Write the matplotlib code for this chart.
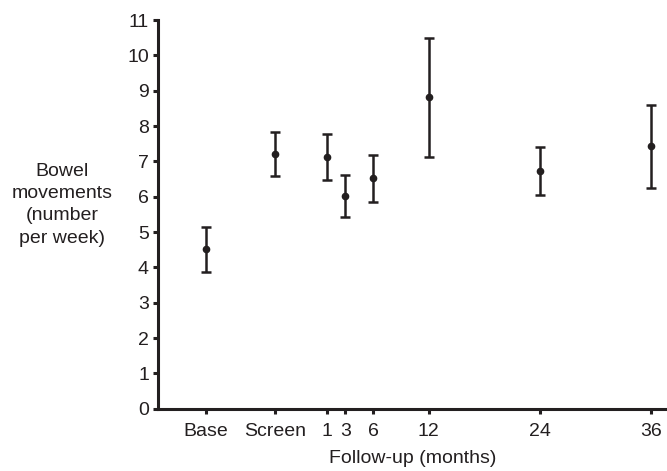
import matplotlib
matplotlib.use("Agg")
import matplotlib.pyplot as plt

# data
labels = ["Base", "Screen", "1", "3", "6", "12", "24", "36"]
months = [-12, -4.6, 1, 3, 6, 12, 24, 36]
means = [4.52, 7.22, 7.12, 6.03, 6.54, 8.82, 6.72, 7.43]
upper = [5.14, 7.83, 7.76, 6.61, 7.18, 10.50, 7.41, 8.59]
lower = [3.86, 6.59, 6.46, 5.43, 5.86, 7.13, 6.04, 6.25]

ink = "#231f20"
plt.rcParams["font.family"] = ["Liberation Sans", "DejaVu Sans"]

fig = plt.figure(figsize=(6.67, 4.71), dpi=100)
ax = fig.add_axes([0.2369, 0.1323, 0.7631, 0.8252])

err_lo = [m - l for m, l in zip(means, lower)]
err_hi = [u - m for m, u in zip(means, upper)]
ax.errorbar(months, means, yerr=[err_lo, err_hi], fmt="o", color=ink,
            ms=4.5, elinewidth=1.8, capsize=3.3, capthick=1.8)

ax.set_xlim(-17.2, 37.7)
ax.set_ylim(0, 11)
ax.set_yticks(range(0, 12))
ax.set_xticks(months)
ax.set_xticklabels(labels)

for s in ["top", "right"]:
    ax.spines[s].set_visible(False)
for s in ["left", "bottom"]:
    ax.spines[s].set_linewidth(2.2)
    ax.spines[s].set_color(ink)
ax.tick_params(axis="both", length=3.5, width=2.2, color=ink,
               labelsize=14, labelcolor=ink)
ax.tick_params(axis="x", pad=7)
ax.tick_params(axis="y", pad=3)

ax.set_xlabel("Follow-up (months)", fontsize=14, color=ink, labelpad=7)
fig.text(0.093, 0.565, "Bowel\nmovements\n(number\nper week)", ha="center",
         va="center", fontsize=14, color=ink, linespacing=1.4)

fig.savefig("out.png", dpi=100)
